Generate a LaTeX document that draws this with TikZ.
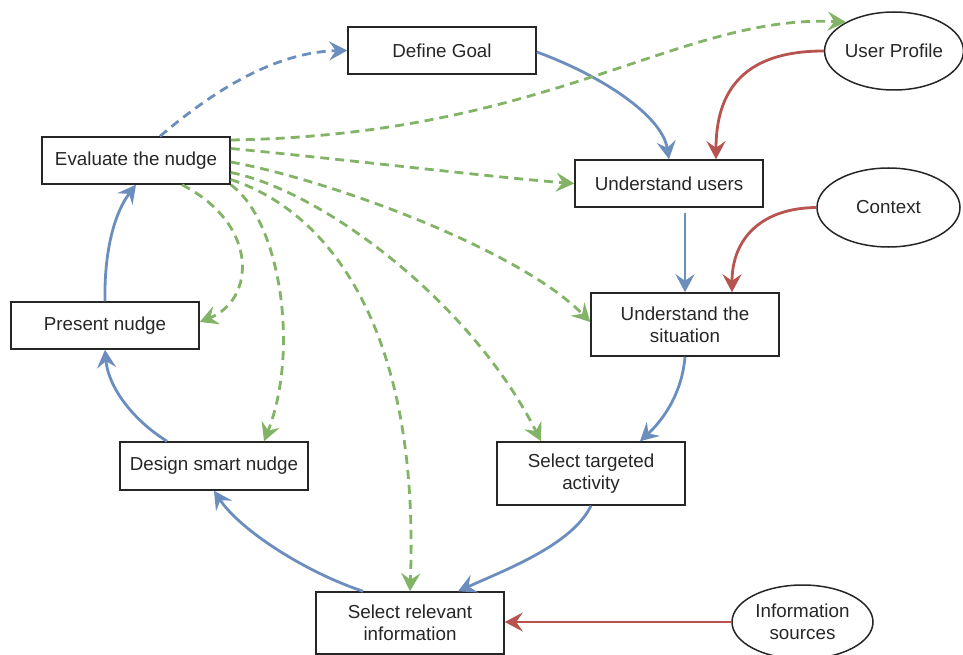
\documentclass[tikz,border=0pt]{standalone}
\usepackage{fontspec}
\setmainfont{Liberation Sans}
\usetikzlibrary{arrows.meta,shapes.geometric,calc}
\definecolor{flowblue}{HTML}{6C8EBF}
\definecolor{flowgreen}{HTML}{82B366}
\definecolor{flowred}{HTML}{B85450}

\begin{document}
\begin{tikzpicture}[x=1pt,y=-1pt,
  every node/.style={font=\fontsize{18.8}{22}\selectfont, align=center, text=black!85},
  stepbox/.style={draw=black!85, line width=1.5pt, minimum width=188pt, minimum height=47pt, inner sep=0pt},
  tallbox/.style={stepbox, minimum height=63pt},
  source/.style={ellipse, draw=black!85, line width=1.5pt, inner sep=0pt},
  link/.style={line width=2.8pt, -{Stealth[length=18pt,width=19pt,inset=6.5pt]}},
  flow/.style={link, draw=flowblue},
  feed/.style={link, draw=flowred},
  loopback/.style={link, draw=flowblue, dash pattern=on 9pt off 6pt},
  review/.style={link, draw=flowgreen, dash pattern=on 9pt off 6pt}
]
\useasboundingbox (0,0) rectangle (963,655);

% process steps
\node[stepbox] (goal)   at (442,50.5)  {Define Goal};
\node[stepbox] (eval)   at (136,160.5) {Evaluate the nudge};
\node[stepbox] (users)  at (669,183.5) {Understand users};
\node[tallbox] (sit)    at (685,324.5) {Understand the\\situation};
\node[stepbox] (pres)   at (105,325.5) {Present nudge};
\node[stepbox, minimum height=48pt] (design) at (214,466) {Design smart nudge};
\node[tallbox] (target) at (591,473.5) {Select targeted\\activity};
\node[tallbox, minimum height=62pt] (relev) at (410,623) {Select relevant\\information};

% inputs
\node[source, minimum width=138pt, minimum height=78pt] (profile) at (894,51)    {User Profile};
\node[source, minimum width=143pt, minimum height=79pt] (context) at (888.5,207.5) {Context};
\node[source, minimum width=141pt, minimum height=74pt] (infos)   at (802.5,622) {Information\\sources};

% main cycle
\draw[flow] ([yshift=-1.5pt]goal.east) .. controls (600,75) and (662,115) .. (users.north);
\draw[flow, shorten <=5pt] (sit.north |- users.south) -- (sit.north);
\draw[flow] (sit.south) .. controls (682,392) and (665,418) .. ([xshift=-45pt]sit.south |- target.north);
\draw[flow] (target.south) .. controls (572,545) and (505,570) .. ([xshift=48pt]relev.north);
\draw[flow] ([xshift=-47pt]relev.north) .. controls (305,572) and (240,530) .. (design.south);
\draw[flow] ([xshift=-47pt]design.north) .. controls (130,418) and (108,385) .. (pres.south);
\draw[flow] (pres.north) .. controls (104,250) and (115,212) .. (eval.south);
\draw[loopback] ([xshift=24pt]eval.north) .. controls (205,98) and (270,52) .. (goal.west);

% external inputs
\draw[feed] (profile.west) .. controls (755,51) and (716,80) .. ([xshift=47pt]users.north);
\draw[feed] (context.west) .. controls (762,208) and (732,238) .. ([xshift=47pt]sit.north);
\draw[feed] (infos.west) -- (infos.west -| relev.east);

% evaluation feedback
\draw[review] ([yshift=20.5pt]eval.east) .. controls (550,135) and (680,14) .. (profile.149);
\draw[review] ([yshift=12pt]eval.east) .. controls (350,160) and (500,178) .. (users.west);
\draw[review] ([yshift=-1.5pt]eval.east) .. controls (330,180) and (520,250) .. ([yshift=2.5pt]sit.west);
\draw[review] ([yshift=-12pt]eval.east) .. controls (320,190) and (470,300) .. ([xshift=-50pt]target.north);
\draw[review] ([yshift=-19pt]eval.east) .. controls (330,212) and (420,330) .. (relev.north);
\draw[review] (eval.south east) .. controls (280,220) and (300,350) .. ([xshift=50pt]design.north);
\draw[review] ([xshift=46pt]eval.south) .. controls (260,225) and (255,300) .. ([yshift=3.5pt]pres.east);
\end{tikzpicture}
\end{document}
